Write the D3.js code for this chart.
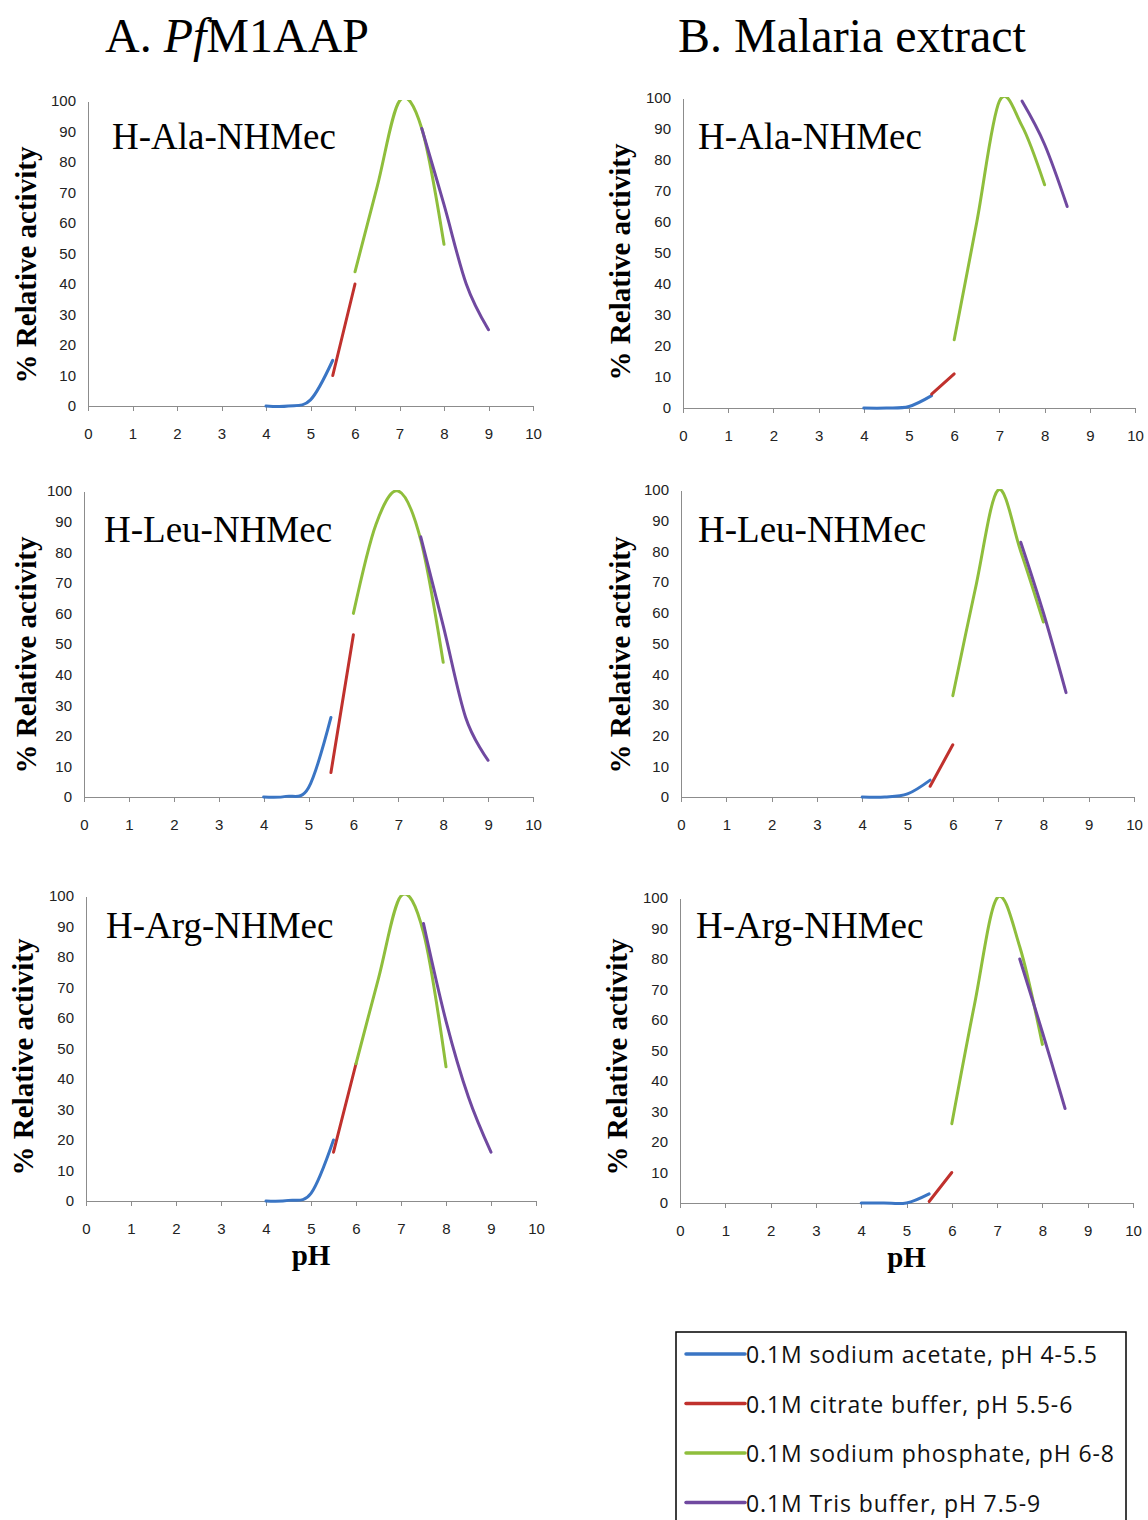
<!DOCTYPE html>
<html lang="en">
<head>
<meta charset="utf-8">
<title>pH profiles</title>
<script src="https://cdn.jsdelivr.net/npm/d3@7"></script>
<style>
  body { margin: 0; background: #fff; }
  .axis path, .axis line { stroke: #8c8c8c; shape-rendering: crispEdges; }
  .axis text { font-family: "Liberation Sans Narrow", "Liberation Sans", sans-serif; font-size: 15px; fill: #222; }
  .serif { font-family: "Liberation Serif", "DejaVu Serif", serif; fill: #000; }
  .legend text { font-family: "Open Sans", "Liberation Sans", sans-serif; font-size: 23px; letter-spacing: 0.9px; fill: #111; }
</style>
</head>
<body>
<script>
// buffers and their pH points
var bufferNames = ["0.1M sodium acetate, pH 4-5.5", "0.1M citrate buffer, pH 5.5-6",
                   "0.1M sodium phosphate, pH 6-8", "0.1M Tris buffer, pH 7.5-9"];
var bufferColors = ["#3a75c4", "#c0312d", "#8fbe3c", "#7049a0"];
var phAcetate = [4, 4.5, 5, 5.5];
var phCitrate = [5.5, 6];
var phPhosphate = [6, 6.5, 7, 7.5, 8];
var phTrisA = [7.5, 8, 8.5, 9];
var phTrisB = [7.5, 8, 8.5];

var substrates = ["H-Ala-NHMec", "H-Leu-NHMec", "H-Arg-NHMec"];
var xTicks = [0, 1, 2, 3, 4, 5, 6, 7, 8, 9, 10];
var yTicks = [0, 10, 20, 30, 40, 50, 60, 70, 80, 90, 100];

// A. PfM1AAP  (% relative activity)
var alaA = [[0, 0, 2, 15], [10, 40], [44, 72, 100, 91, 53], [91, 66, 40, 25]];
var leuA = [[0, 0.2, 3, 26], [8, 53], [60, 89, 100, 84, 44], [85, 56, 26, 12]];
var argA = [[0, 0.2, 2.5, 20], [16, 45], [45, 73, 100, 88, 44], [91, 59, 34, 16]];
// B. Malaria extract
var alaB = [[0, 0, 0.5, 4], [4.5, 11], [22, 60, 99, 91, 72], [99, 85, 65]];
var leuB = [[0, 0, 1, 5.5], [3.5, 17], [33, 68, 100, 80, 57], [83, 60, 34]];
var argB = [[0, 0, 0, 3], [0.5, 10], [26, 65, 100, 84, 52], [80, 56, 31]];

var W = 1148, H = 1520;
var svg = d3.select("body").append("svg").attr("width", W).attr("height", H);

// column titles
var tA = svg.append("text").attr("class", "serif").attr("x", 105).attr("y", 52).style("font-size", "48px");
tA.append("tspan").text("A. ");
tA.append("tspan").style("font-style", "italic").text("Pf");
tA.append("tspan").text("M1AAP");
svg.append("text").attr("class", "serif").attr("x", 678).attr("y", 52).style("font-size", "48px")
   .text("B. Malaria extract");

// panel layout: plot box in pixels, title / y-label spots
var panels = [
  {data: alaA, tris: phTrisA, sub: 0, x0: 88,  x1: 533,  y0: 406,  y1: 101, tx: 112, ty: 149, lx: 26,  ly: 265},
  {data: alaB, tris: phTrisB, sub: 0, x0: 683, x1: 1135, y0: 408,  y1: 98,  tx: 698, ty: 149, lx: 620, ly: 262},
  {data: leuA, tris: phTrisA, sub: 1, x0: 84,  x1: 533,  y0: 797,  y1: 491, tx: 104, ty: 542, lx: 26,  ly: 655},
  {data: leuB, tris: phTrisB, sub: 1, x0: 681, x1: 1134, y0: 797,  y1: 490, tx: 698, ty: 542, lx: 620, ly: 655},
  {data: argA, tris: phTrisA, sub: 2, x0: 86,  x1: 536,  y0: 1201, y1: 896, tx: 106, ty: 938, lx: 23,  ly: 1057, ph: true},
  {data: argB, tris: phTrisB, sub: 2, x0: 680, x1: 1133, y0: 1203, y1: 898, tx: 696, ty: 938, lx: 617, ly: 1057, ph: true}
];

panels.forEach(function(p, k) {
  var x = d3.scaleLinear().domain([0, 10]).range([p.x0, p.x1]);
  var y = d3.scaleLinear().domain([0, 100]).range([p.y0, p.y1]);
  var g = svg.append("g");

  // smoothed curves that overshoot 100 get cut off at the top of the plot
  g.append("clipPath").attr("id", "clip" + k)
    .append("rect").attr("x", p.x0).attr("y", y(100) - 1)
    .attr("width", p.x1 - p.x0).attr("height", y(-10) - y(100) + 1);

  g.append("g").attr("class", "axis")
    .attr("transform", "translate(0," + p.y0 + ")")
    .call(d3.axisBottom(x).tickValues(xTicks).tickSize(5).tickPadding(17).tickFormat(d3.format("d")));
  g.append("g").attr("class", "axis")
    .attr("transform", "translate(" + p.x0 + ",0)")
    .call(d3.axisLeft(y).tickValues(yTicks).tickSize(0).tickPadding(12).tickFormat(d3.format("d")));

  var phs = [phAcetate, phCitrate, phPhosphate, p.tris];
  var line = d3.line()
    .x(function(d) { return x(d[0]); })
    .y(function(d) { return y(d[1]); })
    .curve(d3.curveCardinal.tension(0));

  var curves = g.append("g").attr("clip-path", "url(#clip" + k + ")");
  p.data.forEach(function(vals, i) {
    var pts = phs[i].map(function(ph, j) { return [ph, vals[j]]; });
    curves.append("path").datum(pts)
      .attr("d", line)
      .attr("fill", "none")
      .attr("stroke", bufferColors[i])
      .attr("stroke-width", 3)
      .attr("stroke-linecap", "round");
  });

  g.append("text").attr("class", "serif")
    .attr("x", p.tx).attr("y", p.ty)
    .style("font-size", "37px")
    .text(substrates[p.sub]);

  g.append("text").attr("class", "serif")
    .attr("transform", "translate(" + p.lx + "," + p.ly + ") rotate(-90)")
    .attr("text-anchor", "middle")
    .attr("dominant-baseline", "central")
    .style("font-size", "29px").style("font-weight", "bold")
    .text("% Relative activity");

  if (p.ph) {
    g.append("text").attr("class", "serif")
      .attr("x", x(5)).attr("y", p.y0 + 64)
      .attr("text-anchor", "middle")
      .style("font-size", "29px").style("font-weight", "bold")
      .text("pH");
  }
});

// legend
var lg = svg.append("g").attr("class", "legend");
lg.append("rect").attr("x", 676).attr("y", 1332).attr("width", 450).attr("height", 200)
  .attr("fill", "none").attr("stroke", "#000").attr("stroke-width", 1.5);
bufferNames.forEach(function(name, i) {
  var yy = 1354 + i * 49.5;
  lg.append("line").attr("x1", 686).attr("x2", 745).attr("y1", yy).attr("y2", yy)
    .attr("stroke", bufferColors[i]).attr("stroke-width", 3.5).attr("stroke-linecap", "round");
  lg.append("text").attr("x", 746).attr("y", yy).attr("dominant-baseline", "central").text(name);
});
</script>
</body>
</html>
